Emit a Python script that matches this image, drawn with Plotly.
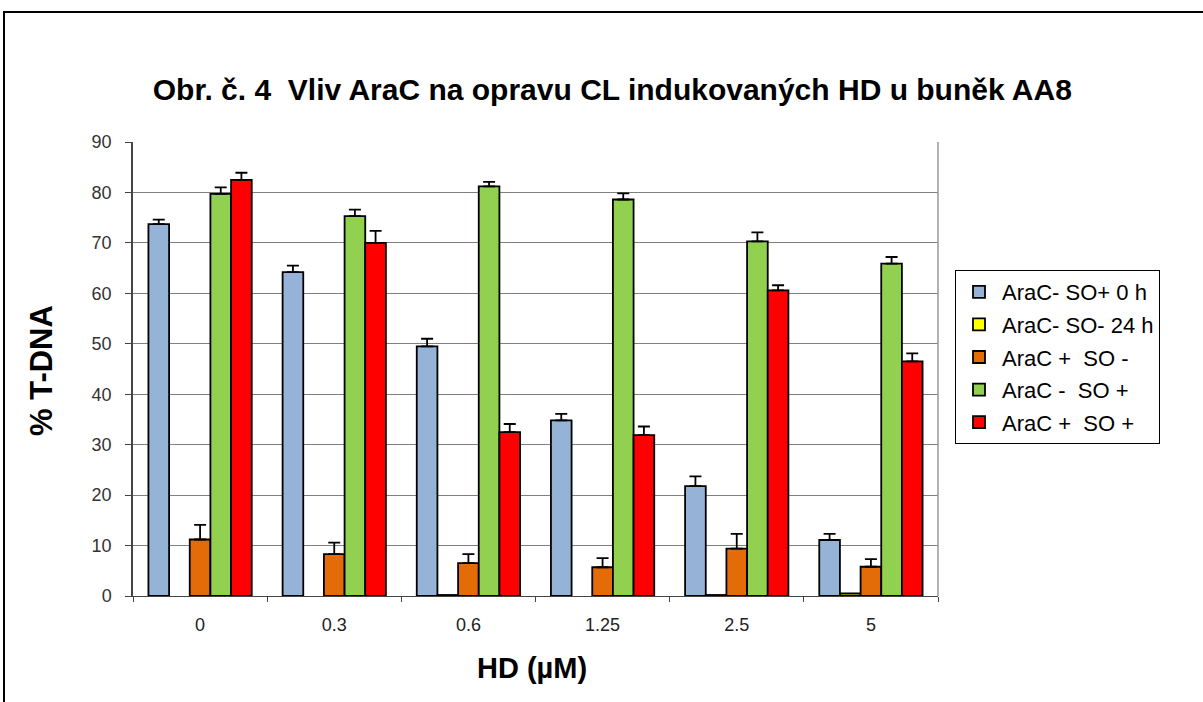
import plotly.graph_objects as go

categories = ["0", "0.3", "0.6", "1.25", "2.5", "5"]

series_names = ["AraC- SO+ 0 h", "AraC- SO- 24 h", "AraC +  SO -", "AraC -  SO +", "AraC +  SO +"]
series_colors = ["#95B3D7", "#FFFF00", "#E36C09", "#92D050", "#FF0000"]

blue_vals = [73.7, 64.2, 49.5, 34.8, 21.8, 11.1]
blue_err = [0.9, 1.3, 1.5, 1.3, 1.9, 1.2]
yellow_vals = [None, None, 0.2, None, 0.2, 0.5]
yellow_err = [0, 0, 0, 0, 0, 0]
orange_vals = [11.2, 8.3, 6.5, 5.7, 9.4, 5.8]
orange_err = [2.9, 2.3, 1.8, 1.8, 2.9, 1.5]
green_vals = [79.7, 75.3, 81.2, 78.6, 70.3, 65.9]
green_err = [1.3, 1.3, 0.9, 1.2, 1.8, 1.3]
red_vals = [82.5, 70.0, 32.5, 31.9, 60.6, 46.5]
red_err = [1.4, 2.4, 1.6, 1.7, 1.0, 1.6]

all_vals = [blue_vals, yellow_vals, orange_vals, green_vals, red_vals]
all_errs = [blue_err, yellow_err, orange_err, green_err, red_err]

y_ticks = [0, 10, 20, 30, 40, 50, 60, 70, 80, 90]

FONT = "Liberation Sans, Arial, sans-serif"

# plot area in pixels
L, R, T, B = 133, 938, 142, 596
PW, PH = R - L, B - T

def px_x(x):
    return (x - L) / PW

def px_y(y):
    return (B - y) / PH

fig = go.Figure()
for i, (name, col, vals, errs) in enumerate(zip(series_names, series_colors, all_vals, all_errs)):
    fig.add_trace(go.Bar(
        name=name, x=categories, y=vals,
        marker=dict(color=col, line=dict(color="black", width=1.8)),
        error_y=dict(type="data", array=errs, arrayminus=[0] * len(errs), symmetric=False,
                     color="black", thickness=1.8, width=6, visible=(i != 1)),
        legendgroup=f"g{i}",
    ))

fig.update_layout(
    width=1203, height=702,
    paper_bgcolor="white", plot_bgcolor="white",
    margin=dict(l=L, r=1203 - R, t=T, b=702 - B),
    barmode="group", bargap=0.23, bargroupgap=0,
    font=dict(family=FONT, color="#222"),
    title=dict(text="<b>Obr. č. 4  Vliv AraC na opravu CL indukovaných HD u buněk AA8</b>",
               x=0.509, xanchor="center", y=1 - 89 / 702, yanchor="middle",
               font=dict(family=FONT, size=30, color="black")),
    showlegend=True,
    legend=dict(x=px_x(955), xanchor="left", y=px_y(270), yanchor="top",
                bordercolor="black", borderwidth=1, bgcolor="white",
                font=dict(family=FONT, size=22, color="black"),
                traceorder="grouped", tracegroupgap=1,
                itemwidth=36),
    xaxis=dict(type="category", tickson="boundaries", ticks="outside", ticklen=5,
               tickcolor="#444", showline=True, linecolor="#444", linewidth=1,
               tickfont=dict(family=FONT, size=18, color="#222"), showgrid=False,
               ticklabelstandoff=12),
    yaxis=dict(range=[0, 90], tickvals=y_ticks, ticks="outside", ticklen=6,
               tickcolor="#444", showline=True, linecolor="#444", linewidth=1.5,
               showgrid=True, gridcolor="#808080", gridwidth=1,
               tickfont=dict(family=FONT, size=18, color="#333"), zeroline=False,
               ticklabelstandoff=10),
    annotations=[
        dict(text="<b>% T-DNA</b>", x=px_x(41), y=px_y(371), xref="paper", yref="paper",
             xanchor="center", yanchor="middle",
             showarrow=False, textangle=-90, font=dict(family=FONT, size=31, color="black")),
        dict(text="<b>HD (µM)</b>", x=px_x(532), y=px_y(668), xref="paper", yref="paper",
             xanchor="center", yanchor="middle",
             showarrow=False, font=dict(family=FONT, size=29, color="black")),
    ],
    shapes=[
        dict(type="line", xref="paper", yref="paper", x0=1, x1=1, y0=0, y1=1,
             line=dict(color="#999", width=1.5)),
        dict(type="rect", xref="paper", yref="paper",
             x0=px_x(4), x1=1.5, y0=-0.5, y1=px_y(12),
             line=dict(color="black", width=2)),
    ],
)

fig.write_html("out.html")
